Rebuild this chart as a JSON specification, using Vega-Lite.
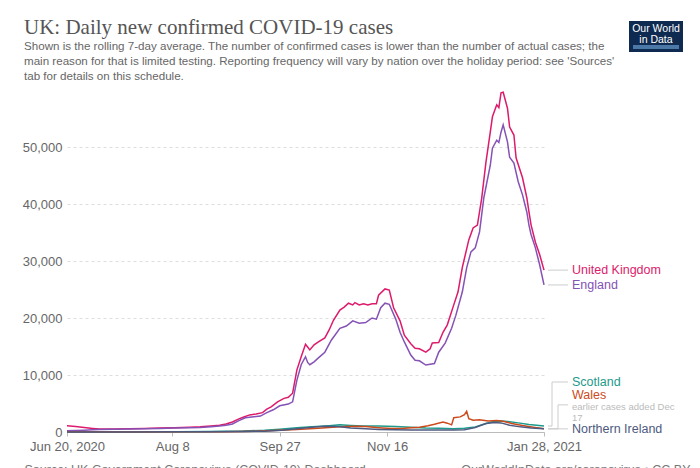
{
  "$schema": "https://vega.github.io/schema/vega-lite/v6.json",
  "width": 477,
  "height": 342,
  "autosize": "none",
  "padding": {"left": 67, "top": 90, "right": 156, "bottom": 36},
  "background": "white",
  "config": {"view": {"stroke": null}, "font": "Liberation Sans"},
  "title": {
    "text": "UK: Daily new confirmed COVID-19 cases",
    "subtitle": [
      "Shown is the rolling 7-day average. The number of confirmed cases is lower than the number of actual cases; the",
      "main reason for that is limited testing. Reporting frequency will vary by nation over the holiday period: see 'Sources'",
      "tab for details on this schedule."
    ],
    "anchor": "start",
    "frame": "group",
    "dx": -43,
    "font": "Liberation Serif",
    "fontSize": 21,
    "fontWeight": "normal",
    "color": "#555555",
    "subtitleFont": "Liberation Sans",
    "subtitleFontSize": 11.6,
    "subtitleColor": "#666666",
    "subtitleLineHeight": 15,
    "subtitlePadding": 3,
    "offset": -62
  },
  "datasets": {
    "cases": [
      {"country": "United Kingdom", "date": "2020-06-20", "cases": 1100},
      {"country": "United Kingdom", "date": "2020-06-24", "cases": 950},
      {"country": "United Kingdom", "date": "2020-06-28", "cases": 780},
      {"country": "United Kingdom", "date": "2020-07-02", "cases": 620},
      {"country": "United Kingdom", "date": "2020-07-05", "cases": 520},
      {"country": "United Kingdom", "date": "2020-07-12", "cases": 540},
      {"country": "United Kingdom", "date": "2020-07-19", "cases": 580},
      {"country": "United Kingdom", "date": "2020-07-26", "cases": 620},
      {"country": "United Kingdom", "date": "2020-08-02", "cases": 680},
      {"country": "United Kingdom", "date": "2020-08-09", "cases": 760},
      {"country": "United Kingdom", "date": "2020-08-16", "cases": 850},
      {"country": "United Kingdom", "date": "2020-08-21", "cases": 900},
      {"country": "United Kingdom", "date": "2020-08-26", "cases": 1050},
      {"country": "United Kingdom", "date": "2020-08-30", "cases": 1200},
      {"country": "United Kingdom", "date": "2020-09-02", "cases": 1400},
      {"country": "United Kingdom", "date": "2020-09-05", "cases": 1750},
      {"country": "United Kingdom", "date": "2020-09-08", "cases": 2300},
      {"country": "United Kingdom", "date": "2020-09-10", "cases": 2600},
      {"country": "United Kingdom", "date": "2020-09-13", "cases": 3000},
      {"country": "United Kingdom", "date": "2020-09-16", "cases": 3150},
      {"country": "United Kingdom", "date": "2020-09-19", "cases": 3400},
      {"country": "United Kingdom", "date": "2020-09-21", "cases": 4000},
      {"country": "United Kingdom", "date": "2020-09-23", "cases": 4400},
      {"country": "United Kingdom", "date": "2020-09-26", "cases": 5300},
      {"country": "United Kingdom", "date": "2020-09-29", "cases": 5900},
      {"country": "United Kingdom", "date": "2020-10-01", "cases": 6100},
      {"country": "United Kingdom", "date": "2020-10-03", "cases": 6800},
      {"country": "United Kingdom", "date": "2020-10-05", "cases": 10900},
      {"country": "United Kingdom", "date": "2020-10-07", "cases": 13200},
      {"country": "United Kingdom", "date": "2020-10-09", "cases": 15400},
      {"country": "United Kingdom", "date": "2020-10-10", "cases": 14900},
      {"country": "United Kingdom", "date": "2020-10-11", "cases": 14400},
      {"country": "United Kingdom", "date": "2020-10-13", "cases": 15300},
      {"country": "United Kingdom", "date": "2020-10-15", "cases": 15800},
      {"country": "United Kingdom", "date": "2020-10-18", "cases": 16500},
      {"country": "United Kingdom", "date": "2020-10-20", "cases": 17900},
      {"country": "United Kingdom", "date": "2020-10-22", "cases": 19600},
      {"country": "United Kingdom", "date": "2020-10-25", "cases": 21400},
      {"country": "United Kingdom", "date": "2020-10-27", "cases": 21900},
      {"country": "United Kingdom", "date": "2020-10-29", "cases": 22600},
      {"country": "United Kingdom", "date": "2020-10-31", "cases": 22300},
      {"country": "United Kingdom", "date": "2020-11-01", "cases": 22700},
      {"country": "United Kingdom", "date": "2020-11-03", "cases": 22300},
      {"country": "United Kingdom", "date": "2020-11-05", "cases": 22500},
      {"country": "United Kingdom", "date": "2020-11-07", "cases": 22300},
      {"country": "United Kingdom", "date": "2020-11-09", "cases": 22500},
      {"country": "United Kingdom", "date": "2020-11-11", "cases": 22500},
      {"country": "United Kingdom", "date": "2020-11-12", "cases": 24000},
      {"country": "United Kingdom", "date": "2020-11-15", "cases": 25100},
      {"country": "United Kingdom", "date": "2020-11-17", "cases": 24900},
      {"country": "United Kingdom", "date": "2020-11-19", "cases": 21800},
      {"country": "United Kingdom", "date": "2020-11-22", "cases": 19500},
      {"country": "United Kingdom", "date": "2020-11-24", "cases": 17000},
      {"country": "United Kingdom", "date": "2020-11-27", "cases": 15500},
      {"country": "United Kingdom", "date": "2020-11-29", "cases": 14700},
      {"country": "United Kingdom", "date": "2020-12-01", "cases": 14600},
      {"country": "United Kingdom", "date": "2020-12-04", "cases": 14000},
      {"country": "United Kingdom", "date": "2020-12-06", "cases": 14600},
      {"country": "United Kingdom", "date": "2020-12-07", "cases": 15600},
      {"country": "United Kingdom", "date": "2020-12-10", "cases": 15700},
      {"country": "United Kingdom", "date": "2020-12-12", "cases": 17500},
      {"country": "United Kingdom", "date": "2020-12-14", "cases": 18800},
      {"country": "United Kingdom", "date": "2020-12-17", "cases": 22300},
      {"country": "United Kingdom", "date": "2020-12-19", "cases": 24600},
      {"country": "United Kingdom", "date": "2020-12-21", "cases": 28900},
      {"country": "United Kingdom", "date": "2020-12-24", "cases": 33700},
      {"country": "United Kingdom", "date": "2020-12-26", "cases": 35800},
      {"country": "United Kingdom", "date": "2020-12-28", "cases": 36300},
      {"country": "United Kingdom", "date": "2020-12-30", "cases": 41000},
      {"country": "United Kingdom", "date": "2021-01-01", "cases": 47400},
      {"country": "United Kingdom", "date": "2021-01-03", "cases": 52600},
      {"country": "United Kingdom", "date": "2021-01-04", "cases": 55300},
      {"country": "United Kingdom", "date": "2021-01-06", "cases": 57400},
      {"country": "United Kingdom", "date": "2021-01-07", "cases": 56900},
      {"country": "United Kingdom", "date": "2021-01-08", "cases": 59500},
      {"country": "United Kingdom", "date": "2021-01-09", "cases": 59600},
      {"country": "United Kingdom", "date": "2021-01-11", "cases": 56800},
      {"country": "United Kingdom", "date": "2021-01-12", "cases": 53500},
      {"country": "United Kingdom", "date": "2021-01-14", "cases": 52100},
      {"country": "United Kingdom", "date": "2021-01-15", "cases": 48100},
      {"country": "United Kingdom", "date": "2021-01-18", "cases": 44600},
      {"country": "United Kingdom", "date": "2021-01-20", "cases": 41100},
      {"country": "United Kingdom", "date": "2021-01-21", "cases": 38600},
      {"country": "United Kingdom", "date": "2021-01-22", "cases": 36300},
      {"country": "United Kingdom", "date": "2021-01-24", "cases": 33300},
      {"country": "United Kingdom", "date": "2021-01-26", "cases": 31100},
      {"country": "United Kingdom", "date": "2021-01-28", "cases": 28400},

      {"country": "England", "date": "2020-06-20", "cases": 200},
      {"country": "England", "date": "2020-06-24", "cases": 250},
      {"country": "England", "date": "2020-06-28", "cases": 320},
      {"country": "England", "date": "2020-07-02", "cases": 400},
      {"country": "England", "date": "2020-07-05", "cases": 450},
      {"country": "England", "date": "2020-07-12", "cases": 480},
      {"country": "England", "date": "2020-07-19", "cases": 520},
      {"country": "England", "date": "2020-07-26", "cases": 560},
      {"country": "England", "date": "2020-08-02", "cases": 610},
      {"country": "England", "date": "2020-08-09", "cases": 680},
      {"country": "England", "date": "2020-08-16", "cases": 760},
      {"country": "England", "date": "2020-08-21", "cases": 800},
      {"country": "England", "date": "2020-08-26", "cases": 930},
      {"country": "England", "date": "2020-08-30", "cases": 1050},
      {"country": "England", "date": "2020-09-02", "cases": 1200},
      {"country": "England", "date": "2020-09-05", "cases": 1400},
      {"country": "England", "date": "2020-09-08", "cases": 2000},
      {"country": "England", "date": "2020-09-11", "cases": 2500},
      {"country": "England", "date": "2020-09-14", "cases": 2650},
      {"country": "England", "date": "2020-09-18", "cases": 2800},
      {"country": "England", "date": "2020-09-21", "cases": 3400},
      {"country": "England", "date": "2020-09-24", "cases": 3900},
      {"country": "England", "date": "2020-09-27", "cases": 4600},
      {"country": "England", "date": "2020-10-01", "cases": 4900},
      {"country": "England", "date": "2020-10-03", "cases": 5300},
      {"country": "England", "date": "2020-10-05", "cases": 9100},
      {"country": "England", "date": "2020-10-07", "cases": 11800},
      {"country": "England", "date": "2020-10-09", "cases": 13200},
      {"country": "England", "date": "2020-10-10", "cases": 12200},
      {"country": "England", "date": "2020-10-11", "cases": 11800},
      {"country": "England", "date": "2020-10-13", "cases": 12300},
      {"country": "England", "date": "2020-10-15", "cases": 13000},
      {"country": "England", "date": "2020-10-18", "cases": 14000},
      {"country": "England", "date": "2020-10-21", "cases": 16100},
      {"country": "England", "date": "2020-10-25", "cases": 18200},
      {"country": "England", "date": "2020-10-28", "cases": 18600},
      {"country": "England", "date": "2020-10-31", "cases": 19500},
      {"country": "England", "date": "2020-11-03", "cases": 19100},
      {"country": "England", "date": "2020-11-06", "cases": 19200},
      {"country": "England", "date": "2020-11-09", "cases": 20000},
      {"country": "England", "date": "2020-11-11", "cases": 19800},
      {"country": "England", "date": "2020-11-13", "cases": 21800},
      {"country": "England", "date": "2020-11-15", "cases": 22600},
      {"country": "England", "date": "2020-11-17", "cases": 22400},
      {"country": "England", "date": "2020-11-20", "cases": 19800},
      {"country": "England", "date": "2020-11-22", "cases": 17500},
      {"country": "England", "date": "2020-11-24", "cases": 15800},
      {"country": "England", "date": "2020-11-27", "cases": 13500},
      {"country": "England", "date": "2020-11-29", "cases": 12600},
      {"country": "England", "date": "2020-12-01", "cases": 12500},
      {"country": "England", "date": "2020-12-04", "cases": 11750},
      {"country": "England", "date": "2020-12-06", "cases": 11900},
      {"country": "England", "date": "2020-12-08", "cases": 12000},
      {"country": "England", "date": "2020-12-10", "cases": 14000},
      {"country": "England", "date": "2020-12-13", "cases": 15600},
      {"country": "England", "date": "2020-12-16", "cases": 18200},
      {"country": "England", "date": "2020-12-18", "cases": 20500},
      {"country": "England", "date": "2020-12-21", "cases": 24600},
      {"country": "England", "date": "2020-12-23", "cases": 28800},
      {"country": "England", "date": "2020-12-25", "cases": 31600},
      {"country": "England", "date": "2020-12-27", "cases": 32300},
      {"country": "England", "date": "2020-12-29", "cases": 35100},
      {"country": "England", "date": "2020-12-31", "cases": 41100},
      {"country": "England", "date": "2021-01-03", "cases": 46800},
      {"country": "England", "date": "2021-01-04", "cases": 49800},
      {"country": "England", "date": "2021-01-06", "cases": 51200},
      {"country": "England", "date": "2021-01-07", "cases": 50800},
      {"country": "England", "date": "2021-01-08", "cases": 52600},
      {"country": "England", "date": "2021-01-09", "cases": 53900},
      {"country": "England", "date": "2021-01-11", "cases": 50900},
      {"country": "England", "date": "2021-01-12", "cases": 48200},
      {"country": "England", "date": "2021-01-14", "cases": 47200},
      {"country": "England", "date": "2021-01-16", "cases": 43900},
      {"country": "England", "date": "2021-01-18", "cases": 41600},
      {"country": "England", "date": "2021-01-20", "cases": 38600},
      {"country": "England", "date": "2021-01-21", "cases": 36300},
      {"country": "England", "date": "2021-01-22", "cases": 34600},
      {"country": "England", "date": "2021-01-24", "cases": 32300},
      {"country": "England", "date": "2021-01-26", "cases": 29300},
      {"country": "England", "date": "2021-01-28", "cases": 25800},

      {"country": "Scotland", "date": "2020-06-20", "cases": 20},
      {"country": "Scotland", "date": "2020-07-20", "cases": 10},
      {"country": "Scotland", "date": "2020-08-10", "cases": 40},
      {"country": "Scotland", "date": "2020-08-25", "cases": 80},
      {"country": "Scotland", "date": "2020-09-10", "cases": 160},
      {"country": "Scotland", "date": "2020-09-20", "cases": 320},
      {"country": "Scotland", "date": "2020-09-27", "cases": 500},
      {"country": "Scotland", "date": "2020-10-05", "cases": 750},
      {"country": "Scotland", "date": "2020-10-12", "cases": 900},
      {"country": "Scotland", "date": "2020-10-20", "cases": 1100},
      {"country": "Scotland", "date": "2020-10-25", "cases": 1250},
      {"country": "Scotland", "date": "2020-10-30", "cases": 1150},
      {"country": "Scotland", "date": "2020-11-05", "cases": 1050},
      {"country": "Scotland", "date": "2020-11-12", "cases": 1050},
      {"country": "Scotland", "date": "2020-11-20", "cases": 950},
      {"country": "Scotland", "date": "2020-11-27", "cases": 850},
      {"country": "Scotland", "date": "2020-12-04", "cases": 700},
      {"country": "Scotland", "date": "2020-12-10", "cases": 650},
      {"country": "Scotland", "date": "2020-12-17", "cases": 550},
      {"country": "Scotland", "date": "2020-12-22", "cases": 650},
      {"country": "Scotland", "date": "2020-12-27", "cases": 900},
      {"country": "Scotland", "date": "2021-01-01", "cases": 1500},
      {"country": "Scotland", "date": "2021-01-05", "cases": 1900},
      {"country": "Scotland", "date": "2021-01-08", "cases": 1950},
      {"country": "Scotland", "date": "2021-01-11", "cases": 1850},
      {"country": "Scotland", "date": "2021-01-16", "cases": 1600},
      {"country": "Scotland", "date": "2021-01-21", "cases": 1300},
      {"country": "Scotland", "date": "2021-01-28", "cases": 1050},

      {"country": "Wales", "date": "2020-06-20", "cases": 30},
      {"country": "Wales", "date": "2020-07-20", "cases": 20},
      {"country": "Wales", "date": "2020-08-15", "cases": 30},
      {"country": "Wales", "date": "2020-09-01", "cases": 50},
      {"country": "Wales", "date": "2020-09-15", "cases": 150},
      {"country": "Wales", "date": "2020-09-27", "cases": 300},
      {"country": "Wales", "date": "2020-10-05", "cases": 450},
      {"country": "Wales", "date": "2020-10-15", "cases": 650},
      {"country": "Wales", "date": "2020-10-25", "cases": 900},
      {"country": "Wales", "date": "2020-11-01", "cases": 1000},
      {"country": "Wales", "date": "2020-11-06", "cases": 950},
      {"country": "Wales", "date": "2020-11-12", "cases": 750},
      {"country": "Wales", "date": "2020-11-18", "cases": 600},
      {"country": "Wales", "date": "2020-11-24", "cases": 650},
      {"country": "Wales", "date": "2020-12-01", "cases": 850},
      {"country": "Wales", "date": "2020-12-05", "cases": 1100},
      {"country": "Wales", "date": "2020-12-08", "cases": 1350},
      {"country": "Wales", "date": "2020-12-12", "cases": 1750},
      {"country": "Wales", "date": "2020-12-14", "cases": 1550},
      {"country": "Wales", "date": "2020-12-16", "cases": 1250},
      {"country": "Wales", "date": "2020-12-17", "cases": 2500},
      {"country": "Wales", "date": "2020-12-20", "cases": 2650},
      {"country": "Wales", "date": "2020-12-22", "cases": 3050},
      {"country": "Wales", "date": "2020-12-23", "cases": 3650},
      {"country": "Wales", "date": "2020-12-24", "cases": 2350},
      {"country": "Wales", "date": "2020-12-26", "cases": 2050},
      {"country": "Wales", "date": "2020-12-29", "cases": 2150},
      {"country": "Wales", "date": "2021-01-02", "cases": 1950},
      {"country": "Wales", "date": "2021-01-06", "cases": 2000},
      {"country": "Wales", "date": "2021-01-09", "cases": 1900},
      {"country": "Wales", "date": "2021-01-13", "cases": 1500},
      {"country": "Wales", "date": "2021-01-18", "cases": 1150},
      {"country": "Wales", "date": "2021-01-23", "cases": 850},
      {"country": "Wales", "date": "2021-01-28", "cases": 550},

      {"country": "Northern Ireland", "date": "2020-06-20", "cases": 10},
      {"country": "Northern Ireland", "date": "2020-07-20", "cases": 10},
      {"country": "Northern Ireland", "date": "2020-08-10", "cases": 40},
      {"country": "Northern Ireland", "date": "2020-08-25", "cases": 60},
      {"country": "Northern Ireland", "date": "2020-09-10", "cases": 80},
      {"country": "Northern Ireland", "date": "2020-09-20", "cases": 150},
      {"country": "Northern Ireland", "date": "2020-09-28", "cases": 300},
      {"country": "Northern Ireland", "date": "2020-10-05", "cases": 550},
      {"country": "Northern Ireland", "date": "2020-10-12", "cases": 850},
      {"country": "Northern Ireland", "date": "2020-10-18", "cases": 1000},
      {"country": "Northern Ireland", "date": "2020-10-24", "cases": 950},
      {"country": "Northern Ireland", "date": "2020-10-30", "cases": 700},
      {"country": "Northern Ireland", "date": "2020-11-06", "cases": 550},
      {"country": "Northern Ireland", "date": "2020-11-12", "cases": 450},
      {"country": "Northern Ireland", "date": "2020-11-20", "cases": 380},
      {"country": "Northern Ireland", "date": "2020-11-27", "cases": 350},
      {"country": "Northern Ireland", "date": "2020-12-04", "cases": 350},
      {"country": "Northern Ireland", "date": "2020-12-10", "cases": 350},
      {"country": "Northern Ireland", "date": "2020-12-17", "cases": 350},
      {"country": "Northern Ireland", "date": "2020-12-22", "cases": 380},
      {"country": "Northern Ireland", "date": "2020-12-27", "cases": 800},
      {"country": "Northern Ireland", "date": "2021-01-01", "cases": 1500},
      {"country": "Northern Ireland", "date": "2021-01-05", "cases": 1650},
      {"country": "Northern Ireland", "date": "2021-01-08", "cases": 1600},
      {"country": "Northern Ireland", "date": "2021-01-12", "cases": 1200},
      {"country": "Northern Ireland", "date": "2021-01-17", "cases": 900},
      {"country": "Northern Ireland", "date": "2021-01-22", "cases": 700},
      {"country": "Northern Ireland", "date": "2021-01-28", "cases": 550}
    ]
  },
  "data": {"name": "cases"},
  "layer": [
    {
      "mark": {"type": "line", "strokeWidth": 1.5},
      "encoding": {
        "x": {
          "field": "date",
          "type": "temporal",
          "scale": {
            "type": "utc",
            "domain": [
              {"year": 2020, "month": 6, "date": 20, "utc": true},
              {"year": 2021, "month": 1, "date": 28, "utc": true}
            ]
          },
          "axis": {
            "values": [
              {"year": 2020, "month": 6, "date": 20, "utc": true},
              {"year": 2020, "month": 8, "date": 8, "utc": true},
              {"year": 2020, "month": 9, "date": 27, "utc": true},
              {"year": 2020, "month": 11, "date": 16, "utc": true},
              {"year": 2021, "month": 1, "date": 28, "utc": true}
            ],
            "labelExpr": "(datum.index == 0 || datum.index == 1) ? utcFormat(datum.value, '%b %-d, %Y') : utcFormat(datum.value, '%b %-d')",
            "labelFontSize": 13,
            "labelColor": "#666666",
            "labelPadding": 4,
            "labelFlush": false,
            "labelOverlap": false,
            "tickSize": 4,
            "tickColor": "#bbbbbb",
            "domainColor": "#bbbbbb",
            "grid": false,
            "title": "Source: UK Government Coronavirus (COVID-19) Dashboard",
            "titleX": -43,
            "titleY": 41,
            "titleAlign": "left",
            "titleAnchor": null,
            "titleBaseline": "alphabetic",
            "titleFontSize": 12.5,
            "titleFontWeight": "normal",
            "titleColor": "#777777"
          }
        },
        "y": {
          "field": "cases",
          "type": "quantitative",
          "scale": {"domain": [0, 60000], "nice": false},
          "axis": {
            "values": [0, 10000, 20000, 30000, 40000, 50000],
            "format": ",d",
            "domain": false,
            "ticks": false,
            "grid": true,
            "gridDash": [3, 3],
            "gridColor": "#dddddd",
            "labelFontSize": 13,
            "labelColor": "#666666",
            "labelPadding": 5,
            "title": "OurWorldInData.org/coronavirus • CC BY",
            "titleAngle": 0,
            "titleX": 623,
            "titleY": 383,
            "titleAlign": "right",
            "titleAnchor": null,
            "titleBaseline": "alphabetic",
            "titleFontSize": 12.5,
            "titleFontWeight": "normal",
            "titleColor": "#777777"
          }
        },
        "color": {
          "field": "country",
          "type": "nominal",
          "scale": {
            "domain": ["United Kingdom", "England", "Scotland", "Wales", "Northern Ireland"],
            "range": ["#dd1a6b", "#8552b5", "#1c9a8b", "#cc4a1c", "#4e5a80"]
          },
          "legend": null
        }
      }
    },
    {
      "transform": [{"filter": "time(datum.date) == utc(2021,0,28) && (datum.country == 'United Kingdom' || datum.country == 'England' || datum.country == 'Northern Ireland')"}],
      "mark": {"type": "rule", "color": "#cccccc", "strokeWidth": 1, "xOffset": 4, "x2Offset": 24},
      "encoding": {
        "x": {"field": "date", "type": "temporal"},
        "x2": {"field": "date"},
        "y": {"field": "cases", "type": "quantitative"}
      }
    },
    {
      "transform": [{"filter": "time(datum.date) == utc(2021,0,28) && datum.country == 'Scotland'"}],
      "layer": [
        {"mark": {"type": "rule", "color": "#cccccc", "strokeWidth": 1, "xOffset": 4, "x2Offset": 8},
         "encoding": {"x": {"field": "date", "type": "temporal"}, "x2": {"field": "date"}, "y": {"field": "cases", "type": "quantitative"}}},
        {"mark": {"type": "rule", "color": "#cccccc", "strokeWidth": 1, "xOffset": 8, "y2Offset": -44},
         "encoding": {"x": {"field": "date", "type": "temporal"}, "y": {"field": "cases", "type": "quantitative"}, "y2": {"field": "cases"}}},
        {"mark": {"type": "rule", "color": "#cccccc", "strokeWidth": 1, "xOffset": 8, "x2Offset": 24, "yOffset": -44},
         "encoding": {"x": {"field": "date", "type": "temporal"}, "x2": {"field": "date"}, "y": {"field": "cases", "type": "quantitative"}}},
        {"mark": {"type": "text", "align": "left", "baseline": "middle", "dx": 28, "dy": -44, "fontSize": 12.5},
         "encoding": {"x": {"field": "date", "type": "temporal"}, "y": {"field": "cases", "type": "quantitative"}, "text": {"field": "country"}, "color": {"field": "country", "type": "nominal", "legend": null}}}
      ]
    },
    {
      "transform": [{"filter": "time(datum.date) == utc(2021,0,28) && datum.country == 'Wales'"}],
      "layer": [
        {"mark": {"type": "rule", "color": "#cccccc", "strokeWidth": 1, "xOffset": 4, "x2Offset": 14},
         "encoding": {"x": {"field": "date", "type": "temporal"}, "x2": {"field": "date"}, "y": {"field": "cases", "type": "quantitative"}}},
        {"mark": {"type": "rule", "color": "#cccccc", "strokeWidth": 1, "xOffset": 14, "y2Offset": -24},
         "encoding": {"x": {"field": "date", "type": "temporal"}, "y": {"field": "cases", "type": "quantitative"}, "y2": {"field": "cases"}}},
        {"mark": {"type": "rule", "color": "#cccccc", "strokeWidth": 1, "xOffset": 14, "x2Offset": 24, "yOffset": -24},
         "encoding": {"x": {"field": "date", "type": "temporal"}, "x2": {"field": "date"}, "y": {"field": "cases", "type": "quantitative"}}},
        {"mark": {"type": "text", "align": "left", "baseline": "middle", "dx": 28, "dy": -34, "fontSize": 12.5},
         "encoding": {"x": {"field": "date", "type": "temporal"}, "y": {"field": "cases", "type": "quantitative"}, "text": {"field": "country"}, "color": {"field": "country", "type": "nominal", "legend": null}}},
        {"mark": {"type": "text", "align": "left", "baseline": "top", "dx": 28, "dy": -27, "fontSize": 9.5, "lineHeight": 11, "color": "#bbbbbb"},
         "encoding": {"x": {"field": "date", "type": "temporal"}, "y": {"field": "cases", "type": "quantitative"}, "text": {"value": ["earlier cases added Dec", "17"]}}}
      ]
    },
    {
      "transform": [{"filter": "time(datum.date) == utc(2021,0,28) && (datum.country == 'United Kingdom' || datum.country == 'England' || datum.country == 'Northern Ireland')"}],
      "mark": {"type": "text", "align": "left", "baseline": "middle", "dx": 28, "fontSize": 12.5},
      "encoding": {
        "x": {"field": "date", "type": "temporal"},
        "y": {"field": "cases", "type": "quantitative"},
        "text": {"field": "country"},
        "color": {"field": "country", "type": "nominal", "legend": null}
      }
    },
    {
      "transform": [{"filter": "time(datum.date) == utc(2021,0,28) && datum.country == 'United Kingdom'"}],
      "mark": {"type": "point", "opacity": 0, "filled": true},
      "encoding": {
        "x": {"field": "date", "type": "temporal"},
        "y": {"field": "cases", "type": "quantitative"},
        "shape": {
          "datum": "logo",
          "scale": {"range": ["M-11.5,-1H11.5V1H-11.5Z"]},
          "legend": {
            "orient": "none",
            "legendX": 562,
            "legendY": -69,
            "title": ["Our World", "in Data"],
            "titleColor": "white",
            "titleFont": "'Liberation Sans Narrow', 'Liberation Sans', sans-serif",
            "titleFontSize": 10.5,
            "titleFontWeight": "normal",
            "titleAlign": "center",
            "titleAnchor": "middle",
            "titleLineHeight": 10.5,
            "titlePadding": 0,
            "fillColor": "#0e2a50",
            "padding": 3,
            "symbolSize": 16,
            "symbolFillColor": "#ce261e",
            "symbolStrokeColor": "#ce261e",
            "symbolStrokeWidth": 0,
            "symbolOpacity": 1,
            "symbolOffset": 21,
            "labelExpr": "''",
            "labelOffset": 0,
            "labelFontSize": 1
          }
        }
      }
    }
  ]
}
